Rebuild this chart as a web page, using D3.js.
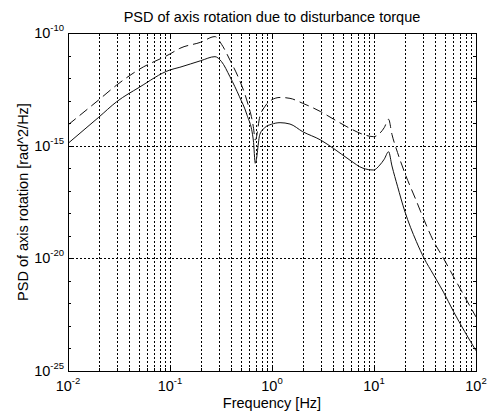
<!DOCTYPE html>
<html>
<head>
<meta charset="utf-8">
<script src="https://cdn.jsdelivr.net/npm/d3@7"></script>
<style>
  body { margin: 0; background: #fff; }
  text { font-family: "Liberation Sans", Arial, sans-serif; fill: #000; }
</style>
</head>
<body>
<div id="vis"></div>
<script>
// frequency points [Hz]
const freq = [0.01, 0.02, 0.03, 0.05, 0.1, 0.125, 0.2, 0.276, 0.32, 0.387, 0.48, 0.565,
  0.656, 0.686, 0.76, 0.85, 0.99, 1.2, 1.5, 2, 3, 4, 5.8, 7.8, 9.9, 11.4, 12.6, 13.9,
  15, 17, 20, 26, 31, 38, 48, 60, 100];

// log10 of PSD, solid curve
const solidExp = [-14.9, -13.74, -13.05, -12.41, -11.64, -11.52, -11.23, -11.05, -11.27, -11.94, -12.83, -13.6,
  -14.75, -15.78, -14.5, -14.2, -14.05, -13.98, -14.04, -14.38, -14.75, -15.12, -15.64, -16.0, -16.08, -15.86, -15.6, -15.27,
  -15.9, -16.8, -17.9, -19.25, -20.0, -20.7, -21.5, -22.35, -24.1];

// log10 of PSD, dashed curve
const dashedExp = [-14.08, -12.97, -12.31, -11.61, -10.93, -10.68, -10.41, -10.16, -10.5, -11.2, -12.09, -12.97,
  -14.16, -14.75, -13.71, -13.27, -12.97, -12.86, -12.9, -13.12, -13.49, -13.82, -14.23, -14.5, -14.6, -14.45, -14.2, -13.83,
  -14.5, -15.3, -16.2, -17.45, -18.3, -19.2, -20.0, -20.8, -22.6];

// tick labels (exponents of ten)
const xMajorExp = [-2, -1, 0, 1, 2];
const yMajorExp = [-25, -20, -15, -10];

const width = 493, height = 414;
const margin = { left: 68, right: 17, top: 33, bottom: 43 };
const x0 = margin.left, x1 = width - margin.right;
const y0 = margin.top, y1 = height - margin.bottom;
const fontSize = 14.5;

const svg = d3.select('#vis').append('svg')
  .attr('width', width)
  .attr('height', height);

const x = d3.scaleLog().domain([1e-2, 1e2]).range([x0, x1]);
const y = d3.scaleLog().domain([1e-25, 1e-10]).range([y1, y0]);

// minor x values 1..9 per decade
const xAll = [];
xMajorExp.slice(0, -1).forEach(function (e) {
  for (let k = 1; k <= 9; k++) xAll.push(k * Math.pow(10, e));
});
xAll.push(1e2);

const yAll = d3.range(-25, -9).map(function (e) { return Math.pow(10, e); });

// grid: dotted, all x values, y majors only
const grid = svg.append('g')
  .attr('stroke', '#000')
  .attr('stroke-width', 1)
  .attr('stroke-dasharray', '1.5,2.5')
  .attr('shape-rendering', 'crispEdges');

grid.selectAll('.gx')
  .data(xAll.filter(function (v) { return v > 1e-2 && v < 1e2; }))
  .enter().append('line')
  .attr('x1', function (d) { return Math.round(x(d)) + 0.5; })
  .attr('x2', function (d) { return Math.round(x(d)) + 0.5; })
  .attr('y1', y0).attr('y2', y1);

grid.selectAll('.gy')
  .data(yMajorExp.filter(function (e) { return e > -25 && e < -10; }))
  .enter().append('line')
  .attr('x1', x0).attr('x2', x1)
  .attr('y1', function (d) { return Math.round(y(Math.pow(10, d))) + 0.5; })
  .attr('y2', function (d) { return Math.round(y(Math.pow(10, d))) + 0.5; });

// curves
const line = d3.line()
  .x(function (d) { return x(d[0]); })
  .y(function (d) { return y(Math.pow(10, d[1])); })
  .curve(d3.curveMonotoneX);

svg.append('path')
  .datum(d3.zip(freq, dashedExp))
  .attr('d', line)
  .attr('fill', 'none')
  .attr('stroke', '#111')
  .attr('stroke-width', 1)
  .attr('stroke-dasharray', '10,5');

svg.append('path')
  .datum(d3.zip(freq, solidExp))
  .attr('d', line)
  .attr('fill', 'none')
  .attr('stroke', '#111')
  .attr('stroke-width', 1);

// box
svg.append('rect')
  .attr('x', x0 + 0.5).attr('y', y0 + 0.5)
  .attr('width', x1 - x0).attr('height', y1 - y0)
  .attr('fill', 'none')
  .attr('stroke', '#000')
  .attr('shape-rendering', 'crispEdges');

// ticks on all four sides, pointing in
const ticks = svg.append('g')
  .attr('stroke', '#000')
  .attr('shape-rendering', 'crispEdges');

xAll.forEach(function (v) {
  const isMajor = Math.abs(Math.log10(v) - Math.round(Math.log10(v))) < 1e-9;
  const len = isMajor ? 5 : 3;
  const px = Math.round(x(v)) + 0.5;
  ticks.append('line').attr('x1', px).attr('x2', px).attr('y1', y1).attr('y2', y1 - len);
  ticks.append('line').attr('x1', px).attr('x2', px).attr('y1', y0).attr('y2', y0 + len);
});

yAll.forEach(function (v) {
  const e = Math.round(Math.log10(v));
  const len = yMajorExp.indexOf(e) >= 0 ? 5 : 3;
  const py = Math.round(y(v)) + 0.5;
  ticks.append('line').attr('y1', py).attr('y2', py).attr('x1', x0).attr('x2', x0 + len);
  ticks.append('line').attr('y1', py).attr('y2', py).attr('x1', x1).attr('x2', x1 - len);
});

// tick labels as 10^n
function powLabel(sel, e) {
  sel.append('tspan').text('10');
  sel.append('tspan')
    .attr('dy', -7)
    .attr('font-size', 9.5)
    .text(e);
}

xMajorExp.forEach(function (e) {
  const t = svg.append('text')
    .attr('x', x(Math.pow(10, e)))
    .attr('y', y1 + 20)
    .attr('text-anchor', 'middle')
    .attr('font-size', fontSize);
  powLabel(t, e);
});

yMajorExp.forEach(function (e) {
  const t = svg.append('text')
    .attr('x', x0 - 4)
    .attr('y', y(Math.pow(10, e)) + 5)
    .attr('text-anchor', 'end')
    .attr('font-size', fontSize);
  powLabel(t, e);
});

// titles
svg.append('text')
  .attr('x', (x0 + x1) / 2)
  .attr('y', 22)
  .attr('text-anchor', 'middle')
  .attr('font-size', fontSize)
  .text('PSD of axis rotation due to disturbance torque');

svg.append('text')
  .attr('x', (x0 + x1) / 2)
  .attr('y', 408)
  .attr('text-anchor', 'middle')
  .attr('font-size', fontSize)
  .text('Frequency [Hz]');

svg.append('text')
  .attr('transform', 'translate(28,' + ((y0 + y1) / 2) + ') rotate(-90)')
  .attr('text-anchor', 'middle')
  .attr('font-size', fontSize)
  .text('PSD of axis rotation [rad^2/Hz]');
</script>
</body>
</html>
